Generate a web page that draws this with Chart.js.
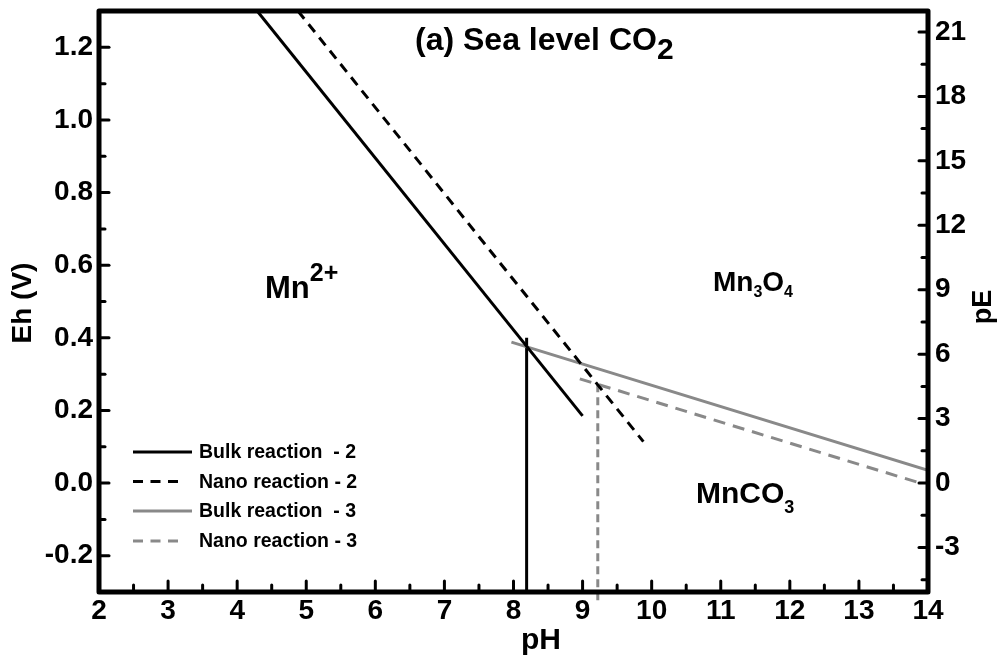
<!DOCTYPE html>
<html><head><meta charset="utf-8">
<script src="https://cdn.jsdelivr.net/npm/chart.js@4.4.0/dist/chart.umd.min.js"></script>
<style>html,body{margin:0;padding:0;background:#fff;}canvas{display:block;}</style>
</head><body>
<canvas id="c" width="1000" height="658"></canvas>
<script>
// ---- data ----
const phTicks = [2,3,4,5,6,7,8,9,10,11,12,13,14];
const phMinorTicks = [2.5,3.5,4.5,5.5,6.5,7.5,8.5,9.5,10.5,11.5,12.5,13.5];
const ehTicks = [-0.2,0,0.2,0.4,0.6,0.8,1.0,1.2];
const ehMinorTicks = [-0.1,0.1,0.3,0.5,0.7,0.9,1.1];
const peTicks = [-3,0,3,6,9,12,15,18,21];
const peMinorTicks = [-4.5,-1.5,1.5,4.5,7.5,10.5,13.5,16.5,19.5];
const ehRange = [-0.3, 1.3];
const phRange = [2, 14];
const PE_PER_VOLT = 1/0.05916;

const seriesLabels = ['Bulk reaction  - 2','Nano reaction - 2','Bulk reaction  - 3','Nano reaction - 3'];
const bulk2Ph = [4.29, 9.0];   const bulk2Eh = [1.30, 0.185];
const nano2Ph = [4.88, 9.88];  const nano2Eh = [1.30, 0.114];
const bulk2VPh = [8.19, 8.19]; const bulk2VEh = [0.40, -0.30];
const bulk3Ph = [7.97, 14.0];  const bulk3Eh = [0.388, 0.035];
const nano3Ph = [8.96, 13.92]; const nano3Eh = [0.287, -0.002];
const nano3VPh = [9.22, 9.22]; const nano3VEh = [0.272, -0.33];

const FONT = '"Liberation Sans", Arial, sans-serif';
const BLACK = '#000000', GRAY = '#898989';
function pts(xs, ys){ return xs.map((x,i)=>({x:x, y:ys[i]})); }
function line(label, xs, ys, color, dash, width, extra){
  return Object.assign({label:label, data:pts(xs,ys), showLine:true, borderColor:color, backgroundColor:color,
    borderWidth:width, borderDash:dash, pointRadius:0, pointHoverRadius:0, fill:false, tension:0,
    borderCapStyle:'butt', yAxisID:'y'}, extra||{});
}
const datasets = [
  line(seriesLabels[0], bulk2Ph, bulk2Eh, BLACK, [], 3, {legend:true}),
  line(seriesLabels[1], nano2Ph, nano2Eh, BLACK, [10,7], 3, {legend:true}),
  line(seriesLabels[2], bulk3Ph, bulk3Eh, GRAY, [], 3, {legend:true}),
  line(seriesLabels[3], nano3Ph, nano3Eh, GRAY, [12,8], 3, {legend:true}),
  line('', bulk2VPh, bulk2VEh, BLACK, [], 3),
  line('', nano3VPh, nano3VEh, GRAY, [8,5], 3, {clip:false})
];

function setTicks(arr){ return function(s){ s.ticks = arr.map(v=>({value:v})); }; }
const tickFont = {family: FONT, weight:'bold', size:28};

const decor = {
  id:'decor',
  afterDraw(chart){
    const ctx = chart.ctx, a = chart.chartArea;
    const sx = chart.scales.x, sy = chart.scales.y, sy2 = chart.scales.y2;
    ctx.save();
    ctx.strokeStyle = '#000'; ctx.fillStyle = '#000';
    ctx.lineWidth = 3; ctx.lineCap = 'round';
    function tk(x1,y1,x2,y2){ ctx.beginPath(); ctx.moveTo(x1,y1); ctx.lineTo(x2,y2); ctx.stroke(); }
    phTicks.forEach(v=>{ const p = sx.getPixelForValue(v); tk(p, a.bottom, p, a.bottom-11); });
    phMinorTicks.forEach(v=>{ const p = sx.getPixelForValue(v); tk(p, a.bottom, p, a.bottom-7); });
    ehTicks.forEach(v=>{ const p = sy.getPixelForValue(v); tk(a.left, p, a.left+10, p); });
    ehMinorTicks.forEach(v=>{ const p = sy.getPixelForValue(v); tk(a.left, p, a.left+6, p); });
    peTicks.forEach(v=>{ const p = sy2.getPixelForValue(v); tk(a.right, p, a.right-9, p); });
    peMinorTicks.forEach(v=>{ const p = sy2.getPixelForValue(v); tk(a.right, p, a.right-6, p); });
    ctx.lineWidth = 5; ctx.lineCap = 'butt'; ctx.lineJoin = 'round';
    ctx.strokeRect(a.left, a.top, a.right-a.left, a.bottom-a.top);

    function rich(x, y, parts){
      ctx.textAlign = 'left'; ctx.textBaseline = 'alphabetic';
      let cx = x;
      parts.forEach(p=>{ ctx.font = 'bold '+p.size+'px '+FONT; ctx.fillText(p.t, cx, y+(p.dy||0)); cx += ctx.measureText(p.t).width + (p.gap||0); });
    }
    rich(415, 50, [{t:'(a) Sea level CO', size:32}, {t:'2', size:30, dy:9}]);
    rich(265, 298, [{t:'Mn', size:31}, {t:'2+', size:25, dy:-17}]);
    rich(713, 291, [{t:'Mn', size:28}, {t:'3', size:16, dy:6}, {t:'O', size:28}, {t:'4', size:16, dy:6}]);
    rich(696, 503, [{t:'MnCO', size:30}, {t:'3', size:18, dy:10}]);

    ctx.font = 'bold 30px '+FONT; ctx.textAlign='center'; ctx.textBaseline='middle';
    ctx.fillText('pH', 541, 641);
    ctx.save(); ctx.translate(23, 303); ctx.rotate(-Math.PI/2);
    ctx.font = 'bold 28px '+FONT; ctx.fillText('Eh (V)', 0, 0); ctx.restore();
    ctx.save(); ctx.translate(984, 307); ctx.rotate(-Math.PI/2);
    ctx.font = 'bold 27px '+FONT; ctx.fillText('pE', 0, 0); ctx.restore();

    const rows = [452, 481.5, 511, 541];
    const items = chart.data.datasets.filter(d=>d.legend);
    items.forEach((d,i)=>{
      const y = rows[i];
      ctx.strokeStyle = d.borderColor; ctx.lineWidth = d.borderWidth; ctx.lineCap='butt';
      ctx.beginPath();
      if (d.borderDash && d.borderDash.length){ ctx.setLineDash([10,7.5]); ctx.moveTo(133,y); ctx.lineTo(178,y); }
      else { ctx.setLineDash([]); ctx.moveTo(133,y); ctx.lineTo(192,y); }
      ctx.stroke(); ctx.setLineDash([]);
      ctx.fillStyle = '#000'; ctx.font = 'bold 19.5px '+FONT; ctx.textAlign='left'; ctx.textBaseline='middle';
      ctx.fillText(d.label, 199, y+1);
    });
    ctx.restore();
  }
};

new Chart(document.getElementById('c'), {
  type:'scatter',
  data:{datasets:datasets},
  options:{
    responsive:false, animation:false, events:[],
    layout:{padding:{top:11, left:0, right:0, bottom:0}},
    plugins:{legend:{display:false}, tooltip:{enabled:false}, title:{display:false}},
    scales:{
      x:{type:'linear', position:'bottom', min:phRange[0], max:phRange[1],
        afterBuildTicks:setTicks(phTicks),
        ticks:{font:tickFont, color:'#000', padding:2, maxRotation:0, autoSkip:false, callback:v=>String(v)},
        grid:{display:false, drawTicks:false}, border:{display:false},
        afterFit:s=>{ s.height = 66; s.paddingLeft = 0; s.paddingRight = 0; }},
      y:{type:'linear', position:'left', min:ehRange[0], max:ehRange[1],
        afterBuildTicks:setTicks(ehTicks),
        ticks:{font:tickFont, color:'#000', padding:6, autoSkip:false, callback:v=>Number(v).toFixed(1)},
        grid:{display:false, drawTicks:false}, border:{display:false},
        afterFit:s=>{ s.width = 99; s.paddingTop = 0; s.paddingBottom = 0; }},
      y2:{type:'linear', position:'right', min:ehRange[0]*PE_PER_VOLT, max:ehRange[1]*PE_PER_VOLT,
        afterBuildTicks:setTicks(peTicks),
        ticks:{font:tickFont, color:'#000', padding:7, autoSkip:false, callback:v=>String(v)},
        grid:{display:false, drawTicks:false}, border:{display:false},
        afterFit:s=>{ s.width = 72; s.paddingTop = 0; s.paddingBottom = 0; }}
    }
  },
  plugins:[decor]
});
</script>
</body></html>
